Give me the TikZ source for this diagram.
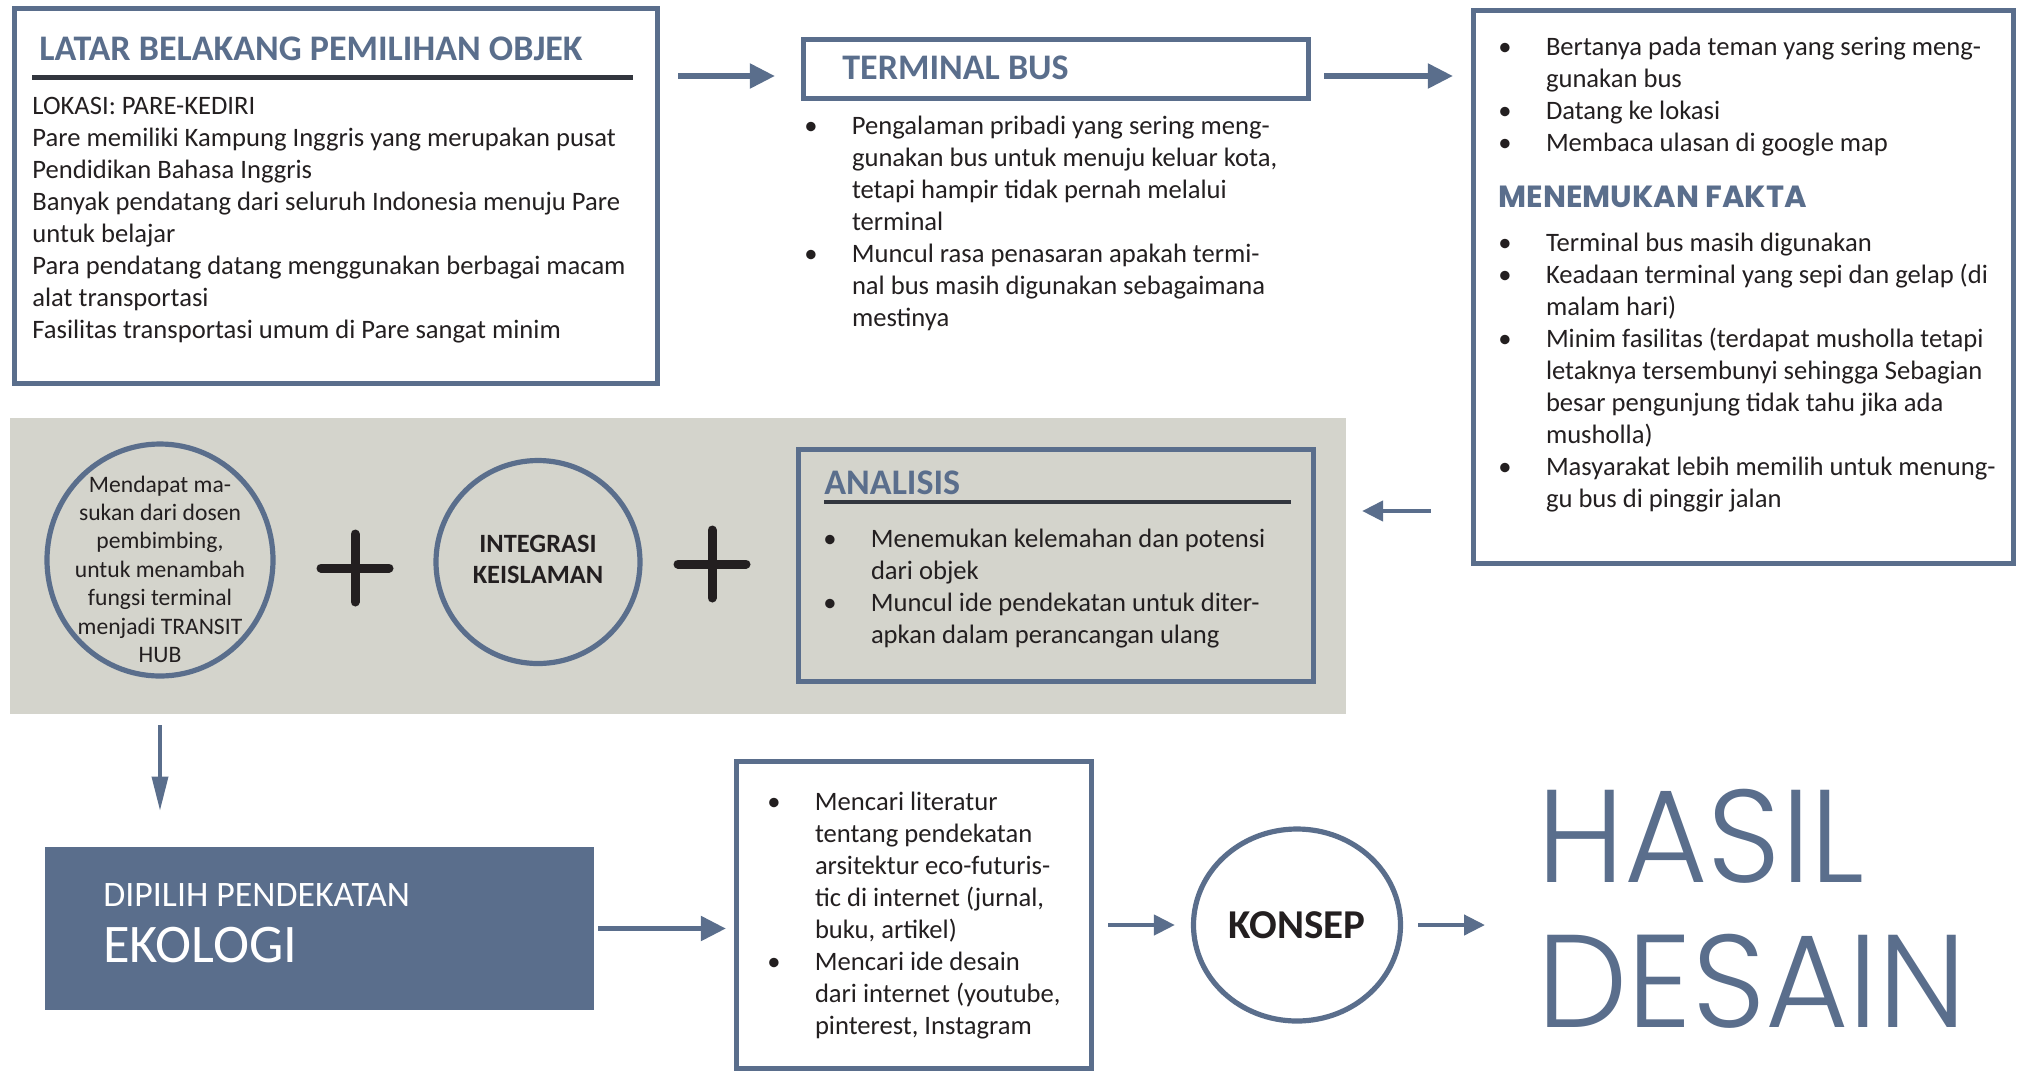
\documentclass[tikz,border=0pt]{standalone}
\usepackage{fontspec}
\setmainfont{Carlito}
\newfontfamily\geofont{Poppins}
\IfFontExistsTF{Poppins Light}{\newfontfamily\geolight{Poppins Light}}{\newfontfamily\geolight{Poppins}}
\usepackage{graphicx}
\usepackage{tikz}
\usetikzlibrary{positioning}
\usetikzlibrary{calc}
\usetikzlibrary{arrows.meta}
\usetikzlibrary{shapes.geometric}

\definecolor{slate}{HTML}{5A6E8C}
\definecolor{bandgray}{HTML}{D4D4CC}
\definecolor{rulegray}{HTML}{32363E}
\definecolor{inkblack}{HTML}{231F20}

\newcommand{\bodysize}{\fontsize{13.3}{16}\selectfont}
\newcommand{\headsize}{\fontsize{18}{21}\selectfont}
\newcommand{\bul}{\textbullet &}
\newenvironment{bullist}{\begin{tabular}[t]{@{}p{23.8pt}@{}l@{}}}{\end{tabular}}

\begin{document}
\begin{tikzpicture}[x=0.5pt,y=-0.5pt,
    frame/.style={draw=slate,line width=2.6pt,inner sep=0pt},
    bubble/.style={draw=slate,line width=2.6pt,ellipse,inner sep=0pt},
    body/.style={inner sep=0pt,text=inkblack,font=\bodysize,anchor=base west},
    heading/.style={inner sep=0pt,text=slate,font=\headsize\bfseries,anchor=base west},
    headrule/.style={draw=rulegray,line width=2.2pt},
    flow/.style={draw=slate,line width=2.6pt,-{Triangle[length=12.5pt,width=12pt]}},
    smallflow/.style={draw=slate,line width=2.2pt,-{Triangle[length=10.5pt,width=10pt]}},
    plussign/.style={draw=inkblack,line width=4.5pt,line cap=round}]

\useasboundingbox (0,0) rectangle (2025,1073);

% top row
\node[frame,minimum width=321.5pt,minimum height=187.5pt] (latar) at (336,196) {};
\node[heading] (latarhead) at (39,60) {LATAR BELAKANG PEMILIHAN OBJEK};
\draw[headrule] (32,77.5) -- (633,77.5);
\node[body] (latartext) at (32,114) {\begin{tabular}[t]{@{}l@{}}
    LOKASI: PARE-KEDIRI\\
    Pare memiliki Kampung Inggris yang merupakan pusat\\
    Pendidikan Bahasa Inggris\\
    Banyak pendatang dari seluruh Indonesia menuju Pare\\
    untuk belajar\\
    Para pendatang datang menggunakan berbagai macam\\
    alat transportasi\\
    Fasilitas transportasi umum di Pare sangat minim
  \end{tabular}};

\node[frame,minimum width=252.5pt,minimum height=29.5pt] (terminal) at (1056,69) {};
\node[heading] (terminalhead) at (842,79) {TERMINAL BUS};
\node[body] (terminaltext) at (804,134) {\begin{bullist}
    \bul Pengalaman pribadi yang sering meng-\\
    & gunakan bus untuk menuju keluar kota,\\
    & tetapi hampir tidak pernah melalui\\
    & terminal\\
    \bul Muncul rasa penasaran apakah termi-\\
    & nal bus masih digunakan sebagaimana\\
    & mestinya
  \end{bullist}};

\node[frame,minimum width=270pt,minimum height=276.5pt] (fakta) at (1743.5,287) {};
\node[body] (surveitext) at (1498,55) {\begin{bullist}
    \bul Bertanya pada teman yang sering meng-\\
    & gunakan bus\\
    \bul Datang ke lokasi\\
    \bul Membaca ulasan di google map
  \end{bullist}};
\node[heading,font=\geofont\fontsize{15.3}{17}\selectfont\bfseries] (faktahead) at (1498,207) {MENEMUKAN FAKTA};
\node[body] (faktatext) at (1498,251) {\begin{bullist}
    \bul Terminal bus masih digunakan\\
    \bul Keadaan terminal yang sepi dan gelap (di\\
    & malam hari)\\
    \bul Minim fasilitas (terdapat musholla tetapi\\
    & letaknya tersembunyi sehingga Sebagian\\
    & besar pengunjung tidak tahu jika ada\\
    & musholla)\\
    \bul Masyarakat lebih memilih untuk menung-\\
    & gu bus di pinggir jalan
  \end{bullist}};

% middle band
\node[fill=bandgray,minimum width=668pt,minimum height=148pt,inner sep=0pt] (band) at (678,566) {};
\node[bubble,minimum width=113pt,minimum height=116pt] (masukan) at (160,560) {};
\node[inner sep=0pt,text=inkblack,font=\fontsize{11.8}{14.2}\selectfont,anchor=base] (masukantext) at (160,492) {\begin{tabular}[t]{@{}c@{}}
    Mendapat ma-\\ sukan dari dosen\\ pembimbing,\\ untuk menambah\\ fungsi terminal\\ menjadi TRANSIT\\ HUB
  \end{tabular}};
\coordinate (plusa) at (355,568);
\draw[plussign] ([xshift=-17pt]plusa) -- ([xshift=17pt]plusa) ([yshift=-17pt]plusa) -- ([yshift=17pt]plusa);
\node[bubble,minimum width=102pt,minimum height=101.5pt,text=inkblack,font=\fontsize{13.2}{15.5}\selectfont\bfseries] (islam) at (538,562) {\begin{tabular}{@{}c@{}}INTEGRASI\\ KEISLAMAN\end{tabular}};
\coordinate (plusb) at (712,564);
\draw[plussign] ([xshift=-17pt]plusb) -- ([xshift=17pt]plusb) ([yshift=-17pt]plusb) -- ([yshift=17pt]plusb);

\node[frame,minimum width=257.5pt,minimum height=116pt] (analisis) at (1056,565.5) {};
\node[heading] (analisishead) at (824,494) {ANALISIS};
\draw[headrule] (824,502) -- (1291,502);
\node[body] (analisistext) at (823,547) {\begin{bullist}
    \bul Menemukan kelemahan dan potensi\\
    & dari objek\\
    \bul Muncul ide pendekatan untuk diter-\\
    & apkan dalam perancangan ulang
  \end{bullist}};

% bottom row
\node[fill=slate,minimum width=274.5pt,minimum height=81.5pt,inner sep=0pt] (ekologi) at (319.5,928.5) {};
\node[inner sep=0pt,text=white,font=\fontsize{17.9}{20}\selectfont,anchor=base west] (dipilih) at (103,906) {DIPILIH PENDEKATAN};
\node[inner sep=0pt,text=white,font=\fontsize{27.2}{30}\selectfont,anchor=base west] (ekologitext) at (103,962) {EKOLOGI};

\node[frame,minimum width=177.5pt,minimum height=153.5pt] (literatur) at (914,915) {};
\node[body] (literaturtext) at (767,810) {\begin{bullist}
    \bul Mencari literatur\\
    & tentang pendekatan\\
    & arsitektur eco-futuris-\\
    & tic di internet (jurnal,\\
    & buku, artikel)\\
    \bul Mencari ide desain\\
    & dari internet (youtube,\\
    & pinterest, Instagram
  \end{bullist}};

\node[bubble,minimum width=103.5pt,minimum height=96pt,text=inkblack,font=\fontsize{20.5}{24}\selectfont\bfseries] (konsep) at (1297,925) {KONSEP};
\node[inner sep=0pt,text=slate,font=\geolight\fontsize{66}{72.5}\selectfont,anchor=base west] (hasil) at (1537,882) {\scalebox{0.97}[1]{\begin{tabular}[t]{@{}l@{}}HASIL\\ DESAIN\end{tabular}}};

% connectors
\coordinate (rowtop) at (0,76);
\coordinate (rowmid) at (0,511);
\draw[flow,shorten <=9pt,shorten >=13pt] (latar.east |- rowtop) -- (terminal.west |- rowtop);
\draw[flow,shorten <=6.5pt,shorten >=9pt] (terminal.east |- rowtop) -- (fakta.west |- rowtop);
\draw[smallflow,shorten <=20pt,shorten >=23pt] (fakta.west |- rowmid) -- (analisis.east |- rowmid);
\draw[draw=slate,line width=1.8pt,-{Triangle[length=17pt,width=8pt]},shorten <=5.5pt,shorten >=18pt] (masukan |- band.south) -- (masukan |- ekologi.north);
\draw[flow,shorten <=2pt,shorten >=4pt] (ekologi.east) -- (literatur.west |- ekologi.east);
\draw[smallflow,shorten <=7pt,shorten >=8pt] (literatur.east |- konsep.west) -- (konsep.west);
\draw[smallflow,shorten <=7.5pt,shorten >=26pt] (konsep.east) -- (konsep.east -| hasil.west);

\end{tikzpicture}
\end{document}
